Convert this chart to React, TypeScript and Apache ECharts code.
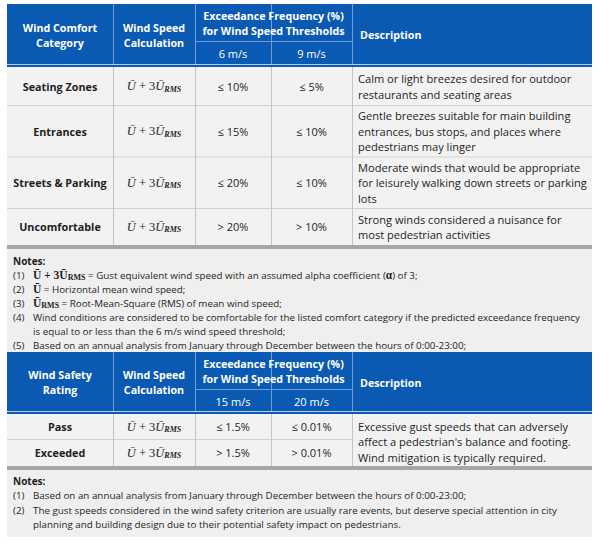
import React, { useEffect, useRef } from 'react';
import * as echarts from 'echarts';

// ---------- data ----------
const comfortHeaders = ['Wind Comfort\nCategory', 'Wind Speed\nCalculation', 'Exceedance Frequency (%)\nfor Wind Speed Thresholds', 'Description'];
const comfortThresholds = ['6 m/s', '9 m/s'];
const comfortCategories = ['Seating Zones', 'Entrances', 'Streets & Parking', 'Uncomfortable'];
const comfortAt6 = ['≤ 10%', '≤ 15%', '≤ 20%', '> 20%'];
const comfortAt9 = ['≤ 5%', '≤ 10%', '≤ 10%', '> 10%'];
const comfortDescriptions = [
  'Calm or light breezes desired for outdoor\nrestaurants and seating areas',
  'Gentle breezes suitable for main building\nentrances, bus stops, and places where\npedestrians may linger',
  'Moderate winds that would be appropriate\nfor leisurely walking down streets or parking\nlots',
  'Strong winds considered a nuisance for\nmost pedestrian activities',
];
const comfortNoteNumbers = ['(1)', '(2)', '(3)', '(4)', '', '(5)'];
const comfortNotes = [
  '{fb|Ū + 3Ū}{fs|RMS}{t| = Gust equivalent wind speed with an assumed alpha coefficient (}{fb|α}{t|) of 3;}',
  '{fb|Ū}{t| = Horizontal mean wind speed;}',
  '{fb|Ū}{fs|RMS}{t| = Root-Mean-Square (RMS) of mean wind speed;}',
  '{t|Wind conditions are considered to be comfortable for the listed comfort category if the predicted exceedance frequency}',
  '{t|is equal to or less than the 6 m/s wind speed threshold;}',
  '{t|Based on an annual analysis from January through December between the hours of 0:00-23:00;}',
];
const safetyHeaders = ['Wind Safety\nRating', 'Wind Speed\nCalculation', 'Exceedance Frequency (%)\nfor Wind Speed Thresholds', 'Description'];
const safetyThresholds = ['15 m/s', '20 m/s'];
const safetyRatings = ['Pass', 'Exceeded'];
const safetyAt15 = ['≤ 1.5%', '> 1.5%'];
const safetyAt20 = ['≤ 0.01%', '> 0.01%'];
const safetyDescription = "Excessive gust speeds that can adversely\naffect a pedestrian's balance and footing.\nWind mitigation is typically required.";
const safetyNoteNumbers = ['(1)', '(2)', ''];
const safetyNotes = [
  'Based on an annual analysis from January through December between the hours of 0:00-23:00;',
  'The gust speeds considered in the wind safety criterion are usually rare events, but deserve special attention in city',
  'planning and building design due to their potential safety impact on pedestrians.',
];
const formulaText = '{u|Ū}{n| + 3}{u|Ū}{s|RMS}';

// ---------- styling ----------
const BLUE = '#0a5ab4';
const HEAD_LINE = '#6f9bd6';
const BODY_BG = '#f2f2f2';
const NOTE_BG = '#efefef';
const ROW_LINE = '#d3d3d3';
const COL_LINE = '#c4c4c4';
const BAR = '#a6a6a6';
const TEXT = '#1e1e1e';
const SANS = '"Open Sans", "Noto Sans", sans-serif';
const SERIF = '"Liberation Serif", "DejaVu Serif", serif';

const X = [7, 113, 195, 271, 352, 592];
const L = X[0];
const R = X[5];

function rect(x: number, y: number, w: number, h: number, fill: string): any {
  return { type: 'rect', silent: true, shape: { x, y, width: w, height: h }, style: { fill } };
}
function line(x1: number, y1: number, x2: number, y2: number, stroke: string, w = 1): any {
  return { type: 'line', silent: true, shape: { x1, y1, x2, y2 }, style: { stroke, lineWidth: w } };
}
function text(x: number, y: number, t: string, opt: any = {}): any {
  const align = opt.align || 'center';
  const style: any = {
    text: t,
    x,
    y,
    fill: opt.fill || TEXT,
    fontFamily: opt.fontFamily || SANS,
    fontSize: opt.fontSize || 11,
    fontWeight: opt.fontWeight || 'normal',
    align,
    textAlign: align,
    verticalAlign: 'middle',
    textVerticalAlign: 'middle',
    lineHeight: opt.lineHeight || 15,
  };
  if (opt.rich) style.rich = opt.rich;
  return { type: 'text', silent: true, style };
}

const formulaRich = {
  u: { fontFamily: SERIF, fontStyle: 'italic', fontSize: 12.5, fill: TEXT },
  n: { fontFamily: SERIF, fontSize: 12.5, fill: TEXT },
  s: { fontFamily: SERIF, fontStyle: 'italic', fontWeight: 'bold', fontSize: 8, fill: TEXT, padding: [6, 0, 0, 0] },
};
const noteRich = {
  t: { fontFamily: SANS, fontSize: 9.8, fill: TEXT },
  fb: { fontFamily: SERIF, fontWeight: 'bold', fontSize: 11.5, fill: TEXT },
  fs: { fontFamily: SERIF, fontWeight: 'bold', fontSize: 8, fill: TEXT, padding: [5, 0, 0, 0] },
};

function header(top: number, sub: number, bottom: number, heads: string[], thresholds: string[]): any[] {
  const els: any[] = [];
  els.push(rect(L, top, R - L, bottom - top, BLUE));
  els.push(line(L, bottom - 2.5, R, bottom - 2.5, '#b9cde9', 1));
  for (let i = 1; i <= 4; i++) els.push(line(X[i] + 0.5, top, X[i] + 0.5, bottom - 3, HEAD_LINE, 1));
  els.push(line(X[2], sub + 0.5, X[4], sub + 0.5, HEAD_LINE, 1));
  const mid = (top + bottom - 3) / 2 + 1;
  const hs = { fill: '#ffffff', fontWeight: 'bold', fontSize: 10.7, lineHeight: 15 };
  els.push(text((X[0] + X[1]) / 2, mid, heads[0], hs));
  els.push(text((X[1] + X[2]) / 2, mid, heads[1], hs));
  els.push(text((X[2] + X[4]) / 2, (top + sub) / 2 + 0.5, heads[2], hs));
  els.push(text(X[4] + 8, mid, heads[3], { ...hs, align: 'left' }));
  const sy = (sub + bottom - 3) / 2 + 1;
  els.push(text((X[2] + X[3]) / 2, sy, thresholds[0], { fill: '#ffffff', fontSize: 11 }));
  els.push(text((X[3] + X[4]) / 2, sy, thresholds[1], { fill: '#ffffff', fontSize: 11 }));
  return els;
}

function buildElements(): any[] {
  const els: any[] = [];
  // ---------- table 1 ----------
  const t1Top = 4, t1Sub = 41, t1Bottom = 67;
  const rows1 = [67, 105.5, 157, 208.5, 245];
  els.push(rect(L, t1Bottom, R - L, rows1[4] - t1Bottom, BODY_BG));
  for (let i = 1; i < 4; i++) els.push(line(L, rows1[i], R, rows1[i], ROW_LINE, 1.2));
  for (let i = 1; i <= 4; i++) els.push(line(X[i] + 0.5, t1Bottom, X[i] + 0.5, rows1[4], COL_LINE, 1));
  els.push(...header(t1Top, t1Sub, t1Bottom, comfortHeaders, comfortThresholds));
  comfortCategories.forEach((c, i) => {
    const cy = (rows1[i] + rows1[i + 1]) / 2;
    els.push(text((X[0] + X[1]) / 2, cy, c, { fontWeight: 'bold', fontSize: 10.8 }));
    els.push(text((X[1] + X[2]) / 2, cy, formulaText, { rich: formulaRich }));
    els.push(text((X[2] + X[3]) / 2, cy, comfortAt6[i], { fontSize: 11 }));
    els.push(text((X[3] + X[4]) / 2, cy, comfortAt9[i], { fontSize: 11 }));
    els.push(text(X[4] + 6, cy, comfortDescriptions[i], { align: 'left', fontSize: 11.1, lineHeight: 15.5 }));
  });
  els.push(rect(L, 245, R - L, 4, BAR));
  els.push(rect(L, 249, R - L, 103, NOTE_BG));
  els.push(text(13, 261, 'Notes:', { align: 'left', fontWeight: 'bold', fontSize: 10 }));
  const noteY1 = [275, 289, 303, 317, 331, 345];
  comfortNotes.forEach((n, i) => {
    if (comfortNoteNumbers[i]) els.push(text(13, noteY1[i], comfortNoteNumbers[i], { align: 'left', fontSize: 9.8 }));
    els.push(text(33, noteY1[i], n, { align: 'left', rich: noteRich, fontSize: 9.8 }));
  });

  // ---------- table 2 ----------
  const t2Top = 352, t2Sub = 389, t2Bottom = 414;
  const rows2 = [414, 439.5, 466];
  els.push(rect(L, t2Bottom, R - L, rows2[2] - t2Bottom, BODY_BG));
  els.push(line(L, rows2[1], X[4], rows2[1], ROW_LINE, 1.2));
  for (let i = 1; i <= 4; i++) els.push(line(X[i] + 0.5, t2Bottom, X[i] + 0.5, rows2[2], COL_LINE, 1));
  els.push(...header(t2Top, t2Sub, t2Bottom, safetyHeaders, safetyThresholds));
  safetyRatings.forEach((c, i) => {
    const cy = (rows2[i] + rows2[i + 1]) / 2;
    els.push(text((X[0] + X[1]) / 2, cy, c, { fontWeight: 'bold', fontSize: 10.8 }));
    els.push(text((X[1] + X[2]) / 2, cy, formulaText, { rich: formulaRich }));
    els.push(text((X[2] + X[3]) / 2, cy, safetyAt15[i], { fontSize: 11 }));
    els.push(text((X[3] + X[4]) / 2, cy, safetyAt20[i], { fontSize: 11 }));
  });
  els.push(text(X[4] + 6, 441.5, safetyDescription, { align: 'left', fontSize: 11.1, lineHeight: 15.5 }));
  els.push(rect(L, 466, R - L, 4, BAR));
  els.push(rect(L, 470, R - L, 67, NOTE_BG));
  els.push(text(13, 481, 'Notes:', { align: 'left', fontWeight: 'bold', fontSize: 10 }));
  const noteY2 = [495, 510, 524];
  safetyNotes.forEach((n, i) => {
    if (safetyNoteNumbers[i]) els.push(text(13, noteY2[i], safetyNoteNumbers[i], { align: 'left', fontSize: 9.8 }));
    els.push(text(33, noteY2[i], n, { align: 'left', fontSize: 9.8 }));
  });
  return els;
}

export default function App() {
  const ref = useRef<HTMLDivElement>(null);
  useEffect(() => {
    if (!ref.current) return;
    const chart = echarts.init(ref.current, undefined, { renderer: 'svg' });
    chart.setOption({
      animation: false,
      backgroundColor: '#ffffff',
      graphic: { elements: buildElements() },
    });
    return () => chart.dispose();
  }, []);
  return <div ref={ref} style={{ position: 'fixed', left: 0, top: 0, width: 600, height: 542 }} />;
}
